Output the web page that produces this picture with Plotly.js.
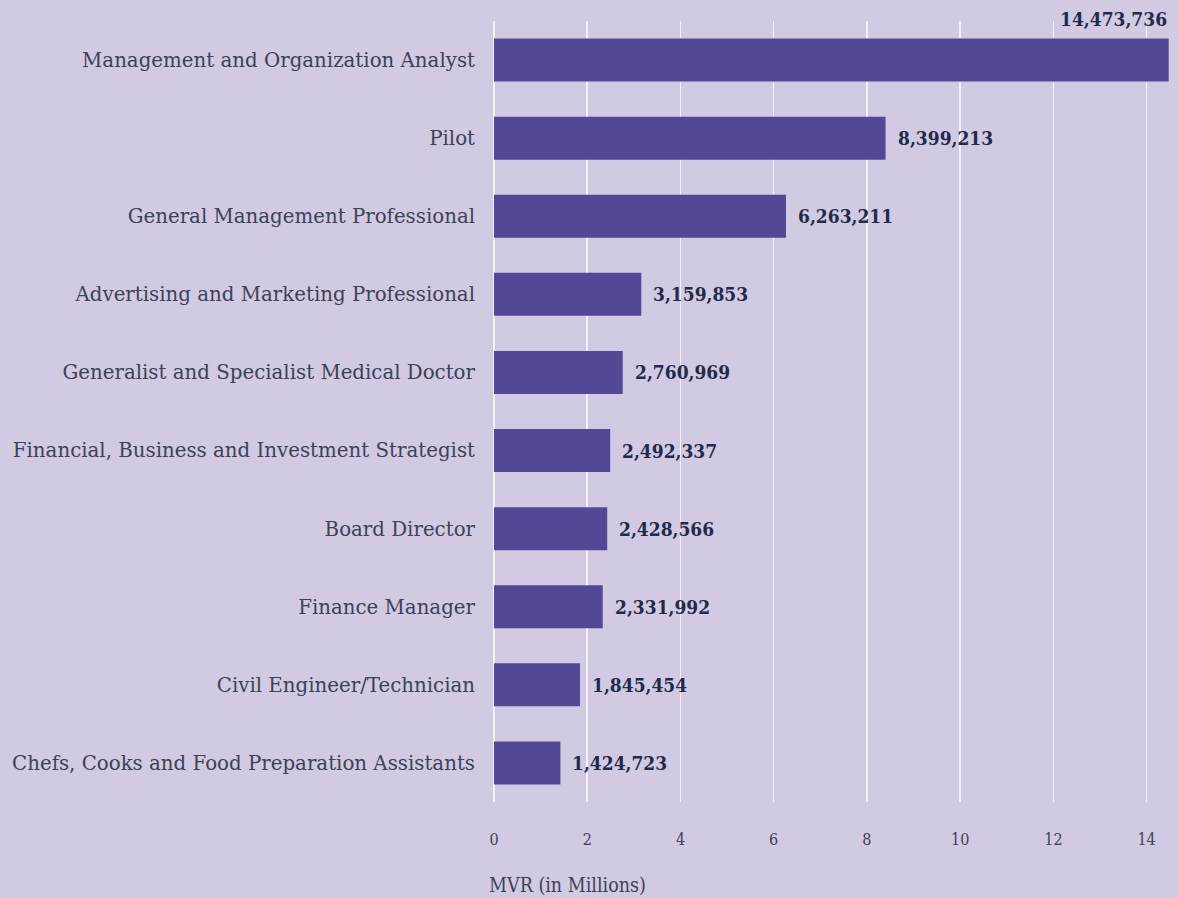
<!DOCTYPE html>
<html>
<head>
<meta charset="utf-8">
<script src="https://cdn.plot.ly/plotly-3.0.1.min.js"></script>
<style>
html,body{margin:0;padding:0;background:#d2c9e2;}
#chart{width:1177px;height:898px;}
</style>
</head>
<body>
<div id="chart"></div>
<script>
const categories = [
  "Management and Organization Analyst",
  "Pilot",
  "General Management Professional",
  "Advertising and Marketing Professional",
  "Generalist and Specialist Medical Doctor",
  "Financial, Business and Investment Strategist",
  "Board Director",
  "Finance Manager",
  "Civil Engineer/Technician",
  "Chefs, Cooks and Food Preparation Assistants"
];
const values = [14473736, 8399213, 6263211, 3159853, 2760969, 2492337, 2428566, 2331992, 1845454, 1424723];
const xTickValues = [0, 2, 4, 6, 8, 10, 12, 14];
const xTitle = "MVR (in Millions)";

const millions = values.map(v => v / 1e6);
const fmt = v => v.toLocaleString("en-US");

const annotations = values.map((v, i) => {
  const isMax = i === 0;
  return {
    x: millions[i], y: categories[i], xref: "x", yref: "y",
    text: fmt(v), showarrow: false,
    xanchor: isMax ? "right" : "left",
    yanchor: "middle",
    xshift: isMax ? 0 : 10,
    yshift: isMax ? 41 : 0,
    font: {family: "DejaVu Serif Condensed, DejaVu Serif, serif", size: 19, color: "#1f2b4b", weight: "bold"}
  };
});
annotations.push({
  xref: "paper", yref: "paper", x: 0, y: 0, xanchor: "left", yanchor: "top",
  xshift: -7, yshift: -70,
  text: xTitle, showarrow: false,
  font: {family: "DejaVu Serif Condensed, DejaVu Serif, serif", size: 19.5, color: "#3a4358"}
});

const trace = {
  type: "bar",
  orientation: "h",
  y: categories,
  x: millions,
  marker: {color: "#524896"},
  width: 0.55,
  hoverinfo: "none"
};

const layout = {
  width: 1177, height: 898,
  paper_bgcolor: "#d2c9e2",
  plot_bgcolor: "rgba(0,0,0,0)",
  margin: {l: 494, r: 8, t: 21, b: 96},
  showlegend: false,
  xaxis: {
    range: [0, 14.48],
    tickvals: xTickValues,
    ticktext: xTickValues.map(String),
    showgrid: true,
    gridcolor: "rgba(255,255,255,0.75)",
    gridwidth: 1.5,
    zeroline: true,
    zerolinecolor: "rgba(255,255,255,0.75)",
    zerolinewidth: 1.5,
    showline: false,
    ticks: "",
    ticklabelstandoff: 26,
    tickfont: {family: "DejaVu Serif Condensed, DejaVu Serif, serif", size: 16, color: "#3a4358"},
    fixedrange: true
  },
  yaxis: {
    autorange: "reversed",
    showgrid: false,
    zeroline: false,
    showline: false,
    ticks: "",
    ticklabelstandoff: 18,
    tickfont: {family: "DejaVu Serif, serif", size: 19.8, color: "#3a4358"},
    fixedrange: true
  },
  annotations: annotations,
  bargap: 0.45
};

Plotly.newPlot("chart", [trace], layout, {displayModeBar: false, staticPlot: true});
</script>
</body>
</html>
